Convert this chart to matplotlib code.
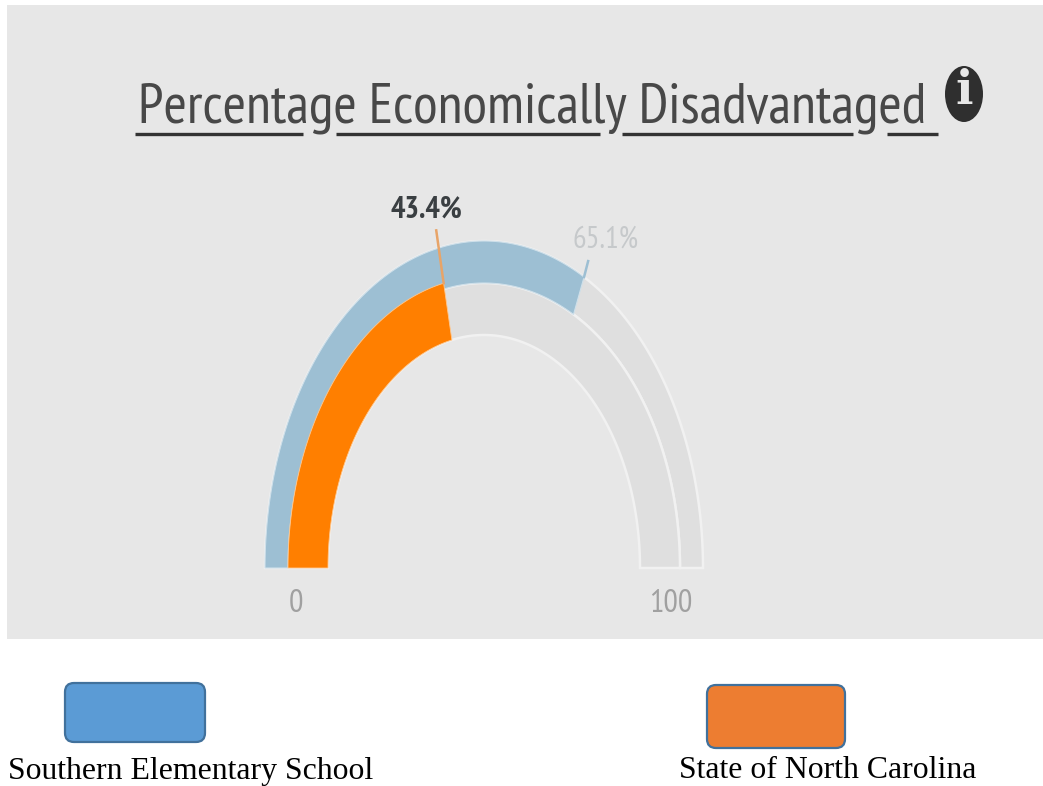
import numpy as np
import matplotlib
matplotlib.use('Agg')
import matplotlib.pyplot as plt
from matplotlib.patches import Rectangle, FancyBboxPatch, Ellipse, Polygon

TITLE = "Percentage Economically Disadvantaged"
SERIES = ["Southern Elementary School", "State of North Carolina"]
VALUES = [65.1, 43.4]
LABELS = ["65.1%", "43.4%"]
TICKS = ["0", "100"]
W, H = 1043, 786
VMAX = 100
NARROW = ['PT Sans Narrow', 'Archivo Narrow', 'Roboto', 'DejaVu Sans']

fig = plt.figure(figsize=(W/100, H/100), dpi=100, facecolor='white')
ax = fig.add_axes([0, 0, 1, 1])
ax.set_xlim(0, W); ax.set_ylim(H, 0); ax.axis('off')
ax.add_patch(Rectangle((7, 5), 1036, 634, fc='#e7e7e7', ec='none', zorder=0))

cx, cy = 484, 568
OUTER = (219, 327)
MID = (196, 285)
ORANGE_TOP = (196, 291)
INNER = (156, 233)

def pt(r, v):
    a = np.radians(180 - 180*v/VMAX)
    return cx + r[0]*np.cos(a), cy - r[1]*np.sin(a)

def band(r0, r1, v0, v1, fc, ec='none', lw=0, z=2):
    vs = np.linspace(v0, v1, 200)
    xo, yo = pt(r1, vs)
    xi, yi = pt(r0, vs[::-1])
    ax.add_patch(Polygon(np.c_[np.r_[xo, xi], np.r_[yo, yi]], closed=True,
                         fc=fc, ec=ec, lw=lw, zorder=z, joinstyle='miter'))

band(MID, OUTER, 0, VMAX, '#dfdfdf', '#f1f1f1', 1.8)
band(INNER, MID, 0, VMAX, '#dfdfdf', '#f1f1f1', 1.8)
band(MID, OUTER, 0, VALUES[0], '#9dbfd3', '#cfe0ea', 0.8, 3)
band(INNER, ORANGE_TOP, 0, VALUES[1], '#ff7f00', '#ffc890', 0.6, 4)

x0, y0 = pt(OUTER, VALUES[0]); x1, y1 = pt((228, 345), VALUES[0])
ax.plot([x0, x1], [y0, y1], color='#9dbfd3', lw=1.8, zorder=5)
x0, y0 = pt(ORANGE_TOP, VALUES[1]); x1, y1 = pt((232, 345), VALUES[1])
ax.plot([x0, x1], [y0, y1], color='#e8a468', lw=1.8, zorder=5)

t = ax.text(138, 123, TITLE, fontsize=40, color='#484848', va='baseline', ha='left', family=NARROW)
fig.canvas.draw()
tw = t.get_window_extent().width
t.set_fontsize(40*787/tw)
for a, b in [(135, 303), (336, 600), (622, 853), (887, 938)]:
    ax.plot([a, b], [134, 134], color='#333333', lw=2.4, zorder=3, solid_capstyle='butt')
ax.add_patch(Ellipse((964, 94), 38, 56, fc='#2f2f2f', ec='none', zorder=3))
ax.text(964, 91, 'i', fontsize=33, fontweight='bold', color='#e7e7e7', ha='center', va='center', family='DejaVu Serif', zorder=4)
ax.text(426, 210, LABELS[1], fontsize=22, fontweight='bold', color='#3a3f42', ha='center', va='center', family=NARROW)
ax.text(606, 240, LABELS[0], fontsize=22, color='#c6c9cb', ha='center', va='center', family=NARROW)
ax.text(296, 604, TICKS[0], fontsize=23, color='#a0a0a0', ha='center', va='center', family=NARROW)
ax.text(671, 604, TICKS[1], fontsize=23, color='#a0a0a0', ha='center', va='center', family=NARROW)

for (x, y, w, h, c) in [(65, 683, 140, 59, '#5b9bd5'), (707, 685, 138, 63, '#ed7d31')]:
    ax.add_patch(FancyBboxPatch((x+9, y+9), w-18, h-18, boxstyle='round,pad=9,rounding_size=9', fc=c, ec='#41719c', lw=1.6, zorder=2))
ax.text(8, 771, SERIES[0], fontsize=22.9, family='Liberation Serif', color='black', va='center', ha='left')
ax.text(679, 771, SERIES[1], fontsize=22.9, family='Liberation Serif', color='black', va='center', ha='left')
fig.savefig('out.png', dpi=100)
